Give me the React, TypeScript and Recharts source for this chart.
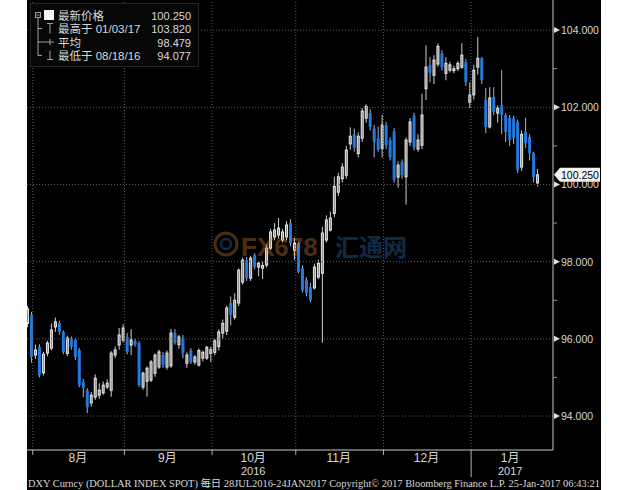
import React from 'react';
import { ComposedChart, Bar, XAxis, YAxis, ReferenceLine } from 'recharts';

// trading days 28JUL2016 - 24JAN2017
const dates = [
  '07/28', '07/29',
  '08/01', '08/02', '08/03', '08/04', '08/05', '08/08', '08/09', '08/10', '08/11', '08/12', '08/15', '08/16',
  '08/17', '08/18', '08/19', '08/22', '08/23', '08/24', '08/25', '08/26', '08/29', '08/30', '08/31',
  '09/01', '09/02', '09/05', '09/06', '09/07', '09/08', '09/09', '09/12', '09/13', '09/14', '09/15', '09/16',
  '09/19', '09/20', '09/21', '09/22', '09/23', '09/26', '09/27', '09/28', '09/29', '09/30',
  '10/03', '10/04', '10/05', '10/06', '10/07', '10/10', '10/11', '10/12', '10/13', '10/14', '10/17', '10/18',
  '10/19', '10/20', '10/21', '10/24', '10/25', '10/26', '10/27', '10/28', '10/31',
  '11/01', '11/02', '11/03', '11/04', '11/07', '11/08', '11/09', '11/10', '11/11', '11/14', '11/15', '11/16',
  '11/17', '11/18', '11/21', '11/22', '11/23', '11/24', '11/25', '11/28', '11/29', '11/30',
  '12/01', '12/02', '12/05', '12/06', '12/07', '12/08', '12/09', '12/12', '12/13', '12/14', '12/15', '12/16',
  '12/19', '12/20', '12/21', '12/22', '12/23', '12/26', '12/27', '12/28', '12/29', '12/30',
  '01/02', '01/03', '01/04', '01/05', '01/06', '01/09', '01/10', '01/11', '01/12', '01/13', '01/16', '01/17',
  '01/18', '01/19', '01/20', '01/23', '01/24',
];

const opens = [
  96.40, 96.62,
  95.58, 95.79, 95.12, 95.63, 95.76, 96.31, 96.41, 96.18, 95.62, 96.00, 95.97, 95.71, 94.88, 94.67, 94.34, 94.49,
  94.54, 94.60, 94.75, 94.67, 95.58, 95.84, 95.97,
  96.05, 95.84, 95.95, 95.89, 94.75, 94.90, 94.93, 95.11, 95.27, 95.58, 95.27, 95.30, 96.15, 95.85, 96.02, 95.37,
  95.70, 95.40, 95.32, 95.50, 95.50, 95.62,
  95.65, 95.80, 96.15, 96.20, 96.93, 96.56, 96.93, 97.47, 98.04, 97.57, 98.17, 97.86, 97.83, 97.91, 98.35, 98.64,
  98.69, 98.56, 98.64, 99.00, 98.30,
  98.48, 97.83, 97.52, 97.34, 97.32, 97.60, 97.70, 98.56, 98.82, 99.25, 99.80, 100.15, 100.24, 101.05, 101.30,
  100.80, 101.20, 101.72, 101.85, 101.45, 101.20, 100.94,
  101.54, 101.15, 101.38, 100.19, 100.58, 100.20, 101.10, 101.78, 100.92, 101.02, 102.48, 103.10, 102.83, 103.12,
  103.40, 102.88, 102.96, 102.95, 103.00, 103.04, 103.17, 102.13,
  102.32, 103.04, 103.27, 102.19, 101.49, 102.27, 101.85, 102.06, 101.80, 101.72, 101.72, 101.62, 100.45, 101.36,
  101.23, 100.81, 100.04,
];

const highs = [
  96.85, 96.70,
  95.85, 95.86, 95.66, 95.95, 96.40, 96.55, 96.47, 96.22, 96.08, 96.06, 96.02, 95.76, 94.96, 94.72, 94.62, 95.08,
  94.85, 94.90, 94.95, 95.68, 95.80, 96.28, 96.38,
  96.15, 96.25, 96.00, 95.94, 95.15, 95.28, 95.45, 95.62, 95.72, 95.66, 95.70, 96.25, 96.25, 96.10, 96.10, 95.65,
  95.76, 95.58, 95.75, 95.70, 95.82, 95.80,
  96.00, 96.25, 96.50, 96.86, 97.10, 97.18, 97.82, 98.10, 98.12, 98.15, 98.22, 98.00, 98.00, 98.45, 98.85, 99.00,
  99.13, 98.85, 99.05, 99.10, 98.62,
  98.52, 97.90, 97.60, 97.45, 97.95, 98.05, 98.90, 99.20, 99.30, 100.20, 100.30, 100.55, 101.00, 101.48, 101.45,
  101.35, 101.98, 102.08, 101.95, 101.55, 101.50, 101.80,
  101.62, 101.22, 101.46, 100.60, 100.65, 101.22, 101.72, 101.86, 101.30, 102.35, 103.60, 103.30, 103.35, 103.65,
  103.48, 103.30, 103.18, 103.08, 103.20, 103.66, 103.25, 102.65,
  103.10, 103.82, 103.30, 102.50, 102.52, 102.52, 102.05, 102.96, 101.85, 101.80, 101.78, 101.68, 101.40, 101.73,
  101.30, 100.85, 100.40,
];

const lows = [
  96.30, 95.38,
  95.48, 95.00, 95.05, 95.55, 95.70, 96.18, 96.10, 95.60, 95.55, 95.72, 95.45, 94.75, 94.49, 94.077, 94.25, 94.42,
  94.45, 94.55, 94.70, 94.50, 95.50, 95.72, 95.90,
  95.60, 95.58, 95.80, 94.75, 94.68, 94.50, 94.88, 95.02, 95.22, 95.25, 95.20, 95.25, 95.85, 95.75, 95.50, 95.25,
  95.35, 95.33, 95.28, 95.42, 95.45, 95.40,
  95.58, 95.70, 96.00, 96.10, 96.35, 96.50, 96.85, 97.40, 97.50, 97.50, 97.80, 97.62, 97.55, 97.85, 98.30, 98.55,
  98.60, 98.50, 98.55, 98.40, 98.05,
  97.70, 97.20, 97.10, 96.95, 97.28, 97.55, 95.90, 98.50, 98.78, 99.15, 99.70, 100.05, 100.15, 100.90, 100.85,
  100.70, 101.10, 101.60, 101.40, 100.70, 100.85, 100.70,
  100.92, 100.62, 100.05, 99.92, 100.15, 99.48, 101.00, 100.88, 100.85, 100.92, 102.19, 102.65, 102.60, 103.05,
  102.95, 102.70, 102.90, 102.88, 102.94, 103.00, 102.55, 101.98,
  102.20, 102.85, 102.60, 101.33, 101.45, 101.80, 101.60, 101.30, 101.10, 101.00, 101.05, 100.30, 100.35, 100.95,
  100.62, 100.05, 99.95,
];

const closes = [
  96.78, 95.53,
  95.71, 95.06, 95.60, 95.89, 96.23, 96.44, 96.18, 95.66, 96.02, 95.79, 95.53, 94.80, 94.73, 94.23, 94.54, 94.98,
  94.67, 94.80, 94.85, 95.63, 95.71, 96.10, 96.28,
  95.66, 95.97, 95.85, 94.80, 95.11, 95.24, 95.40, 95.58, 95.66, 95.32, 95.63, 96.15, 95.90, 96.05, 95.63, 95.58,
  95.40, 95.53, 95.70, 95.65, 95.78, 95.72,
  95.95, 96.18, 96.40, 96.80, 96.62, 97.00, 97.78, 98.04, 97.57, 98.09, 97.86, 97.96, 97.90, 98.35, 98.77, 98.82,
  98.87, 98.77, 98.95, 98.48, 98.48,
  97.73, 97.26, 97.19, 97.00, 97.86, 97.96, 98.74, 99.08, 99.13, 99.95, 100.20, 100.45, 100.89, 101.25, 100.95,
  101.25, 101.90, 102.02, 101.49, 101.10, 100.90, 101.54,
  101.02, 100.71, 100.12, 100.50, 100.24, 101.15, 101.62, 100.96, 101.15, 101.80, 103.04, 102.90, 103.22, 103.58,
  103.04, 103.14, 103.10, 103.00, 103.14, 103.35, 102.65, 102.32,
  102.96, 103.27, 102.70, 101.49, 102.24, 101.88, 101.98, 101.80, 101.36, 101.15, 101.20, 100.37, 101.30, 101.07,
  100.81, 100.19, 100.25,
];

const monthNames = ['8月', '9月', '10月', '11月', '12月', '1月'];
const monthStarts = [2, 25, 47, 68, 90, 112];
const monthLabelAt = [12.5, 35, 56.5, 78, 100, 121];
const yearNames = ['2016', '2017'];
const yearLabelAt = [56.5, 121];
const yearBreakAt = 112;

const priceTicks = [94, 96, 98, 100, 102, 104];
const minorTicks = [95, 97, 99, 101, 103];

const legendNames = ['最新价格', '最高于 01/03/17', '平均', '最低于 08/18/16'];
const legendValues = ['100.250', '103.820', '98.479', '94.077'];

const footer =
  'DXY Curncy (DOLLAR INDEX SPOT)  每日 28JUL2016-24JAN2017 Copyright© 2017 Bloomberg Finance L.P. 25-Jan-2017 06:43:21';

const candles = dates.map((d, i) => ({
  i,
  date: d,
  o: opens[i],
  h: highs[i],
  l: lows[i],
  c: closes[i],
  range: [lows[i], highs[i]],
}));

const W = 574;
const H = 490;
const FONT = '"Liberation Sans", "Noto Sans CJK SC", sans-serif';
const BLUE = '#2479dc';
const TEXT = '#d8d8d8';
const GRID = '#5c5c5c';

const boundaryTicks = monthStarts.map((s) => s - 0.8);
const xTicks = [...boundaryTicks, ...monthLabelAt].sort((a, b) => a - b);
const yTicks = [...priceTicks, ...minorTicks].sort((a, b) => a - b);

function Candle(props: any) {
  const { x, y, width, height, payload } = props;
  if (!payload) return null;
  const { o, h, l, c } = payload;
  const top = Math.min(y, y + height);
  const bottom = Math.max(y, y + height);
  const py = (v: number) => top + ((h - v) / (h - l)) * (bottom - top);
  const cx = x + width / 2;
  const up = c >= o;
  const bTop = py(Math.max(o, c));
  const bH = Math.max(1, py(Math.min(o, c)) - bTop);
  return (
    <g>
      <line x1={cx} x2={cx} y1={top} y2={bottom} stroke={up ? '#d0d0d0' : '#9fb6d6'} strokeWidth={1} />
      {up ? (
        <rect x={x + 0.5} y={bTop} width={width - 1} height={bH} fill="#8a8a8a" stroke="#e8e8e8" strokeWidth={1} />
      ) : (
        <rect x={x} y={bTop} width={width} height={bH} fill={BLUE} />
      )}
    </g>
  );
}

function MonthTick(props: any) {
  const { x, y, payload } = props;
  const v = payload.value;
  const b = boundaryTicks.indexOf(v);
  if (b >= 0) {
    const isYear = monthStarts[b] === yearBreakAt;
    return <line x1={x} x2={x} y1={y} y2={y + (isYear ? 27 : 5)} stroke="#b0b0b0" strokeWidth={1} />;
  }
  const m = monthLabelAt.indexOf(v);
  const yr = yearLabelAt.indexOf(v);
  return (
    <g fontFamily={FONT} fill={TEXT} textAnchor="middle">
      <text x={x} y={y + 12} fontSize={12}>{monthNames[m]}</text>
      {yr >= 0 && <text x={x} y={y + 25} fontSize={11}>{yearNames[yr]}</text>}
    </g>
  );
}

function PriceTick(props: any) {
  const { x, y, payload } = props;
  const v = payload.value;
  if (priceTicks.includes(v)) {
    return (
      <g>
        <path d={`M${x + 1},${y - 3} L${x + 7},${y} L${x + 1},${y + 3} Z`} fill="#e0e0e0" />
        <text x={x + 8} y={y + 4} fontSize={10.5} fontFamily={FONT} fill={TEXT}>
          {v.toFixed(3)}
        </text>
      </g>
    );
  }
  return <line x1={x} x2={x + 4} y1={y} y2={y} stroke="#9a9a9a" strokeWidth={1} />;
}

function PriceTag(props: any) {
  const vb = props.viewBox || {};
  const ax = (vb.x || 0) + (vb.width || 0);
  const y = vb.y || 0;
  return (
    <g>
      <path
        d={`M${ax + 1},${y} L${ax + 7},${y - 7} L${ax + 47},${y - 7} L${ax + 47},${y + 7} L${ax + 7},${y + 7} Z`}
        fill="#f2f2f2"
      />
      <text x={ax + 8} y={y + 4} fontSize={10.5} fontFamily={FONT} fill="#000">
        {closes[closes.length - 1].toFixed(3)}
      </text>
    </g>
  );
}

const rowY = [15, 28.5, 42, 55.5];

function Overlay() {
  return (
    <svg width={W} height={H} style={{ position: 'absolute', left: 0, top: 0, pointerEvents: 'none' }}>
      {/* watermark */}
      <g opacity={0.38}>
        <circle cx={199} cy={244} r={11} fill="none" stroke="#c9772f" strokeWidth={3} />
        <circle cx={199} cy={244} r={5} fill="none" stroke="#2f6fb8" strokeWidth={2.5} />
        <text x={214} y={256} fontSize={26} fontWeight="bold" fontFamily={FONT} fill="#c9772f">FX678</text>
        <text x={308} y={256} fontSize={24} fontWeight="bold" fontFamily={FONT} fill="#2f6fb8">汇通网</text>
      </g>
      {/* legend */}
      <rect x={3.5} y={3.5} width={168} height={63} fill="#070707" stroke="#262626" />
      <g stroke="#a0a0a0" strokeWidth={1} fill="none">
        <rect x={8.5} y={12.5} width={5} height={5} />
        <line x1={9.5} x2={12.5} y1={15} y2={15} />
        <line x1={11} x2={11} y1={18} y2={rowY[3]} />
        <line x1={11} x2={15} y1={rowY[1]} y2={rowY[1]} />
        <line x1={20} x2={26} y1={rowY[1] - 5} y2={rowY[1] - 5} />
        <line x1={23} x2={23} y1={rowY[1] - 5} y2={rowY[1] + 5} />
        <line x1={11} x2={27} y1={rowY[2]} y2={rowY[2]} />
        <line x1={23} x2={23} y1={rowY[2] - 3} y2={rowY[2] + 3} />
        <line x1={11} x2={15} y1={rowY[3]} y2={rowY[3]} />
        <line x1={23} x2={23} y1={rowY[3] - 5} y2={rowY[3] + 4} />
        <line x1={20} x2={26} y1={rowY[3] + 4} y2={rowY[3] + 4} />
      </g>
      <rect x={17} y={10} width={10} height={10} fill="#f4f4f4" />
      <g fontFamily={FONT} fill={TEXT}>
        {legendNames.map((n, k) => (
          <text key={n} x={31} y={rowY[k] + 4.5} fontSize={11.5}>{n}</text>
        ))}
        {legendValues.map((v, k) => (
          <text key={v} x={164} y={rowY[k] + 4.5} textAnchor="end" fontSize={11}>{v}</text>
        ))}
      </g>
      {/* footer */}
      <text
        x={1}
        y={487}
        fontSize={10}
        fontFamily='"Liberation Serif", "Noto Sans CJK SC", serif'
        fill={TEXT}
        textLength={572}
        lengthAdjust="spacingAndGlyphs"
      >
        {footer}
      </text>
    </svg>
  );
}

export default function App() {
  return (
    <div style={{ position: 'absolute', left: 0, top: 0, width: 630, height: 490, background: '#fff' }}>
      <div style={{ position: 'absolute', left: 27, top: 0, width: W, height: H, background: '#000' }}>
        <ComposedChart width={W} height={H} data={candles} margin={{ top: 0, right: 0, bottom: 0, left: 0 }}>
          <XAxis
            dataKey="i"
            type="number"
            domain={[-0.25, 131.75]}
            allowDataOverflow
            ticks={xTicks}
            interval={0}
            tick={<MonthTick />}
            tickLine={false}
            tickSize={0}
            tickMargin={0}
            axisLine={{ stroke: '#c8c8c8' }}
            height={40}
          />
          <YAxis
            orientation="right"
            type="number"
            domain={[93.12, 104.78]}
            allowDataOverflow
            ticks={yTicks}
            interval={0}
            tick={<PriceTick />}
            tickLine={false}
            tickSize={0}
            tickMargin={0}
            axisLine={{ stroke: '#c8c8c8' }}
            width={48}
          />
          {priceTicks.map((v) => (
            <ReferenceLine key={`h${v}`} y={v} stroke={GRID} strokeDasharray="1 2" />
          ))}
          {boundaryTicks.map((v) => (
            <ReferenceLine key={`v${v}`} x={v} stroke={GRID} strokeDasharray="1 2" />
          ))}
          <Bar dataKey="range" barSize={3} shape={<Candle />} isAnimationActive={false} />
          <ReferenceLine y={closes[closes.length - 1]} stroke="none" label={<PriceTag />} />
        </ComposedChart>
        <Overlay />
      </div>
    </div>
  );
}
